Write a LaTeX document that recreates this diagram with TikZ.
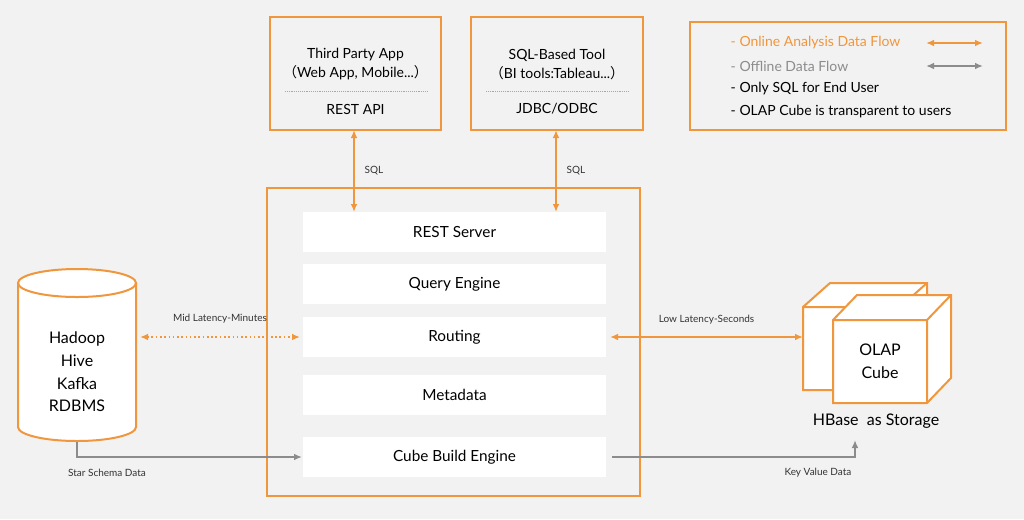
\documentclass[tikz,border=0pt]{standalone}
\usepackage{fontspec}
\setmainfont{Lato}
\newfontfamily\cjk{Noto Sans CJK SC}
\usetikzlibrary{arrows.meta, positioning}
\definecolor{kyorange}{HTML}{F0963C}
\definecolor{kygray}{HTML}{8C8C8C}
\definecolor{kybg}{HTML}{F2F2F2}
\tikzset{
  x=0.75pt, y=-0.75pt,
  frame/.style={draw=kyorange, line width=1.5pt, fill=kybg},
  layer/.style={fill=white, minimum width=227pt, minimum height=29.5pt, font=\fontsize{11.5}{13}\selectfont},
  online/.style={{Latex[length=6pt,width=5pt]}-{Latex[length=6pt,width=5pt]}, kyorange, line width=1.2pt},
  offline/.style={-{Latex[length=6pt,width=5pt]}, kygray, line width=1.2pt},
  small/.style={font=\fontsize{7.5}{9}\selectfont, text=black!80},
}

\begin{document}
\begin{tikzpicture}
        % background
        \fill[kybg] (0,0) rectangle (1024,519);
        \useasboundingbox (0,0) rectangle (1024,519);

        % client boxes
        \draw[frame] (270,17) rectangle (441,130);
        \draw[frame] (471,17) rectangle (643,130);
        \node (app) at (355.5,55) {\fontsize{10.5}{12}\selectfont Third Party App};
        \node (appsub) at (355.5,73) {\fontsize{10.5}{12}\selectfont {\cjk （}Web App, Mobile...{\cjk ）}};
        \draw[kyorange, densely dotted] (285,91) -- (427,91);
        \node (rest) at (355.5,109) {\fontsize{10.5}{12}\selectfont REST API};
        \node (tool) at (557,55) {\fontsize{10.5}{12}\selectfont SQL-Based Tool};
        \node (toolsub) at (557,73) {\fontsize{10.5}{12}\selectfont {\cjk （}BI tools:Tableau...{\cjk ）}};
        \draw[kyorange, densely dotted] (486,91) -- (628,91);
        \node (jdbc) at (557,109) {\fontsize{10.5}{12}\selectfont JDBC/ODBC};

        % legend
        \draw[frame] (690,22) rectangle (1006,130);
        \begin{scope}[every node/.style={anchor=west, font=\fontsize{10.5}{12}\selectfont}]
          \node[text=kyorange] (l1) at (726,43) {- Online Analysis Data Flow};
          \node[text=kygray] (l2) at (726,66) {- Offline Data Flow};
          \node (l3) at (726,89) {- Only SQL for End User};
          \node (l4) at (726,112) {- OLAP Cube is transparent to users};
        \end{scope}
        \coordinate (o1) at (926,43);  \coordinate (o2) at (983,43);
        \coordinate (f1) at (926,66);  \coordinate (f2) at (983,66);
        \draw[online] (o1) -- (o2);
        \draw[{Latex[length=6pt,width=5pt]}-{Latex[length=6pt,width=5pt]}, kygray, line width=1.2pt] (f1) -- (f2);

        % kylin server
        \draw[frame] (267,188) rectangle (640,496);
        \node[layer] (server) at (454.5,232) {REST Server};
        \node[layer] (query) at (454.5,284) {Query Engine};
        \node[layer] (routing) at (454.5,337) {Routing};
        \node[layer] (meta) at (454.5,395) {Metadata};
        \node[layer] (build) at (454.5,457) {Cube Build Engine};

        \coordinate (s1a) at (354,130); \coordinate (s1b) at (354,212);
        \coordinate (s2a) at (556,130); \coordinate (s2b) at (556,212);
        \draw[online] (s1a) -- node[right=4pt, small] {SQL} (s1b);
        \draw[online] (s2a) -- node[right=4pt, small] {SQL} (s2b);

        % source
        \draw[kyorange, line width=1.5pt, fill=white] (18,283) -- (18,427) arc[start angle=180, end angle=360, x radius=59, y radius=-14] -- (136,283);
        \draw[kyorange, line width=1.5pt, fill=white] (77,283) ellipse[x radius=59, y radius=-14];
        \node[font=\fontsize{12}{14}\selectfont, align=center] (src) at (77,372) {Hadoop\\[3pt]Hive\\[3pt]Kafka\\[3pt]RDBMS};

        % cubes
        \draw[kyorange, line width=1.5pt, fill=white] (803,307) -- (830,283) -- (927,283) -- (927,366) -- (900,390) -- (803,390) -- cycle;
        \draw[kyorange, line width=1.5pt] (803,307) -- (900,307) -- (927,283) (900,307) -- (900,390);
        \draw[kyorange, line width=1.5pt, fill=white] (833,320) -- (857,295) -- (951,295) -- (951,378) -- (927,403) -- (833,403) -- cycle;
        \draw[kyorange, line width=1.5pt] (833,320) -- (927,320) -- (951,295) (927,320) -- (927,403);
        \node[font=\fontsize{12}{14}\selectfont, align=center] (cube) at (880,361) {OLAP\\[3pt]Cube};
        \node[font=\fontsize{12}{14}\selectfont] (hbase) at (876,421) {HBase\ \ as Storage};

        % flows
        \coordinate (m1) at (140,337); \coordinate (m2) at (300,337);
        \draw[online, dotted, line width=1.8pt] (m1) -- node[above=6pt, small] {Mid Latency-Minutes} (m2);
        \coordinate (c1) at (610,337); \coordinate (c2) at (803,337);
        \draw[online] (c1) -- node[above=6pt, small] {Low Latency-Seconds} (c2);
        \coordinate (b0) at (77,442); \coordinate (b1) at (302,457);
        \draw[offline] (b0) |- (b1);
        \node[small] (star) at (107,473) {Star Schema Data};
        \coordinate (k0) at (612,457); \coordinate (k1) at (855,440);
        \draw[offline] (k0) -| (k1);
        \node[small] (kv) at (818,473) {Key Value Data};
\end{tikzpicture}
\end{document}
